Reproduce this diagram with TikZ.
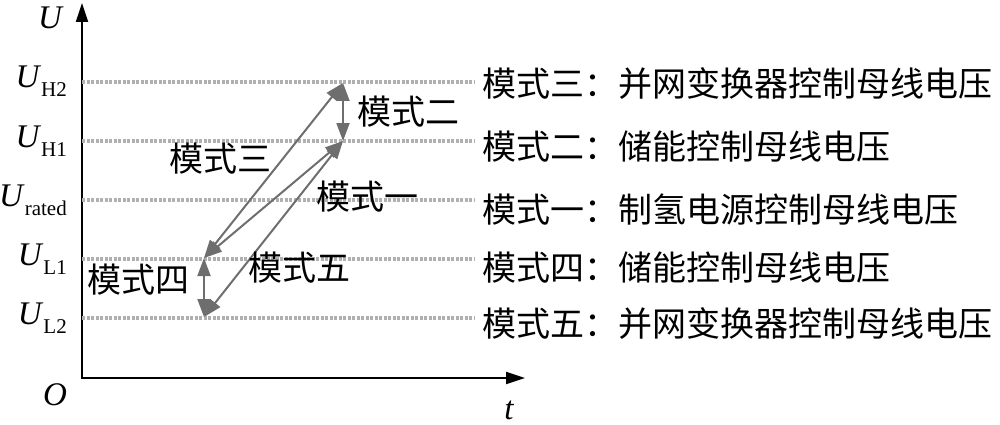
\documentclass[tikz,border=0pt]{standalone}
\usepackage{fontspec}
\setmainfont{Liberation Serif}
\newfontfamily\cjk{Noto Sans CJK SC}
\usetikzlibrary{arrows.meta}
\definecolor{arrgray}{HTML}{6E6E6E}
\definecolor{dotgray}{HTML}{B0B0B0}
\tikzset{
  level/.style={dotgray,line width=3.5pt,dash pattern=on 3pt off 1.5pt},
  modearrow/.style={arrgray,line width=2pt,
    {Triangle[length=18pt,width=13pt]}-{Triangle[length=18pt,width=13pt]}},
  modelabel/.style={font=\cjk\fontsize{34}{34}\selectfont,inner sep=0pt},
  axislabel/.style={font=\fontsize{33}{33}\selectfont\itshape,inner sep=0pt}
}
\newcommand\ulab[1]{\textit{U}\raisebox{-9pt}{\fontsize{21}{21}\selectfont #1}}

\begin{document}
\begin{tikzpicture}[x=1pt,y=-1pt]
\useasboundingbox (0,0) rectangle (1000,425);

% axes
\coordinate (Utop) at (82,3);
\coordinate (O) at (82,378);
\coordinate (tend) at (525,378);
\draw[line width=2pt,{Triangle[length=19pt,width=12pt]}-{Triangle[length=19pt,width=12pt]}]
  (Utop) -- (O) -- (tend);
\node[axislabel] (labU) at (50,18) {U};
\node[axislabel] (labO) at (55,395) {O};
\node[axislabel] (labt) at (509,410) {t};

% voltage levels
\foreach \nm/\yy in {H2/82,H1/141,rated/200,L1/259,L2/318} {
  \coordinate (s\nm) at (82,\yy);
  \coordinate (e\nm) at (474,\yy);
  \draw[level] (s\nm) -- (e\nm);
  \node[anchor=base east,inner sep=0pt,font=\fontsize{33}{33}\selectfont]
    (lab\nm) at (67,\yy+6) {\ulab{\nm}};
}

% switching points
\coordinate (H2) at (343,83);
\coordinate (H1) at (343,141);
\coordinate (L1) at (204,258);
\coordinate (L2) at (204,317);

\draw[modearrow] (H2) -- (H1);
\draw[modearrow] (L1) -- (H2);
\draw[modearrow] (L1) -- (H1);
\draw[modearrow] (L2) -- (H1);
\draw[modearrow] (L1) -- (L2);

\node[modelabel] (m2) at (408,112) {模式二};
\node[modelabel] (m3) at (220,159) {模式三};
\node[modelabel] (m1) at (367,197) {模式一};
\node[modelabel] (m5) at (299,268) {模式五};
\node[modelabel] (m4) at (138,280) {模式四};

% legend on the right
\node[modelabel,anchor=west] (r3) at (482,84) {模式三：并网变换器控制母线电压};
\node[modelabel,anchor=west] (r2) at (482,147) {模式二：储能控制母线电压};
\node[modelabel,anchor=west] (r1) at (482,210) {模式一：制氢电源控制母线电压};
\node[modelabel,anchor=west] (r4) at (482,268) {模式四：储能控制母线电压};
\node[modelabel,anchor=west] (r5) at (482,324) {模式五：并网变换器控制母线电压};
\end{tikzpicture}
\end{document}
